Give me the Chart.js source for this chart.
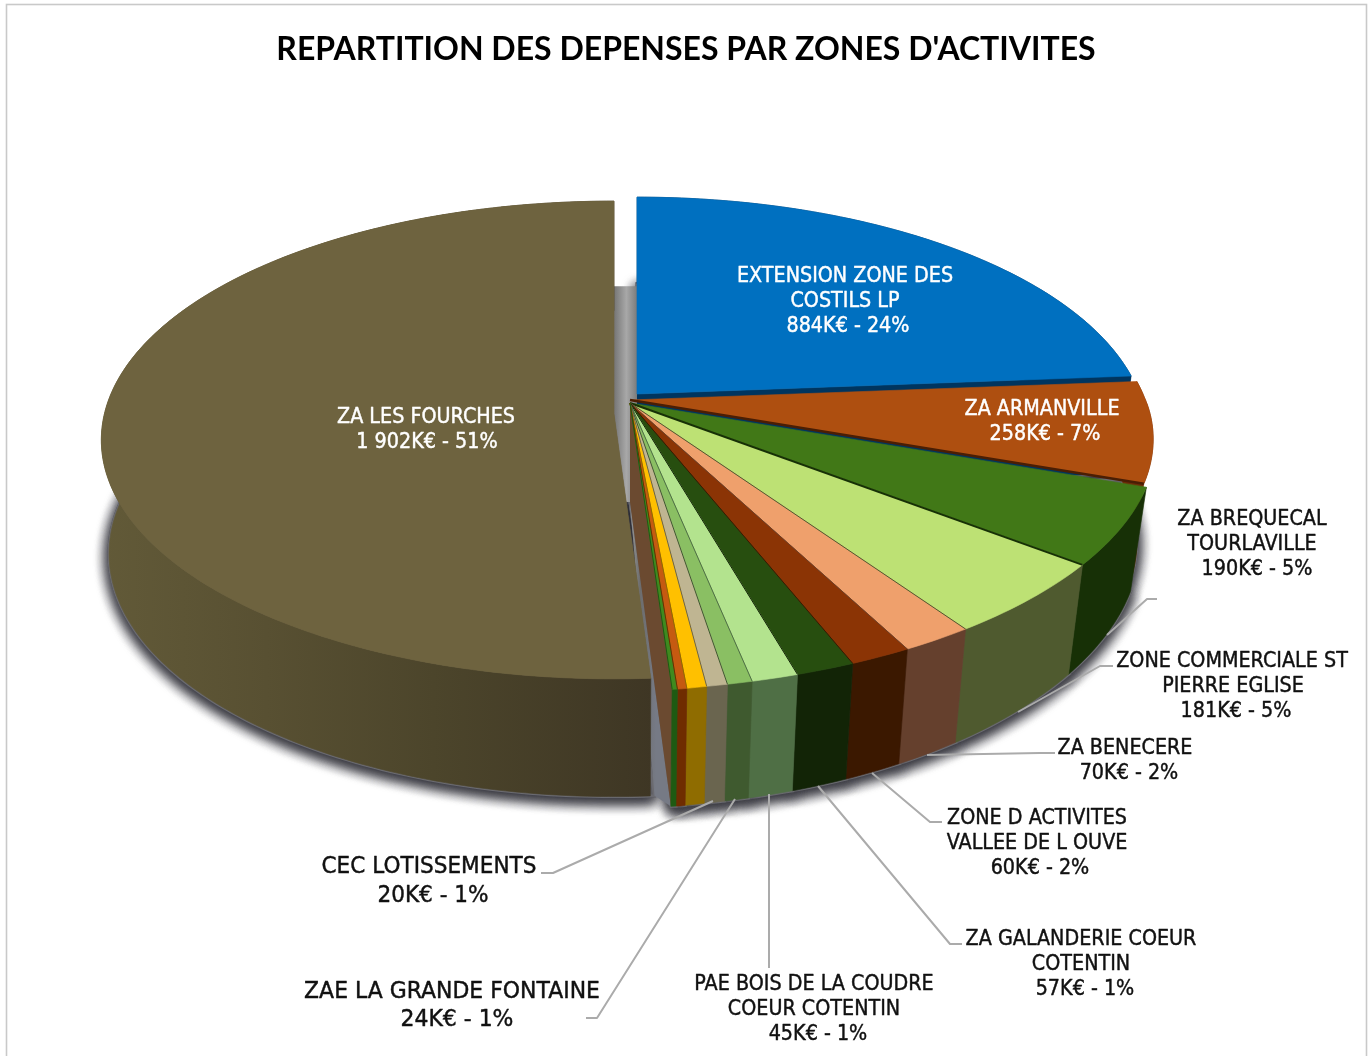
<!DOCTYPE html>
<html lang="fr"><head><meta charset="utf-8">
<style>html,body{margin:0;padding:0;background:#fff}canvas{display:block}</style>
<script src="https://cdn.jsdelivr.net/npm/chart.js@4"></script></head>
<body><canvas id="c" width="1372" height="1056"></canvas>
<script>
// ---- data (clockwise from 12 o'clock) ----
const titleText = "REPARTITION DES DEPENSES PAR ZONES D'ACTIVITES";
const categories = ["EXTENSION ZONE DES COSTILS LP","ZA ARMANVILLE","ZA BREQUECAL TOURLAVILLE","ZONE COMMERCIALE ST PIERRE EGLISE","ZA BENECERE","ZONE D ACTIVITES VALLEE DE L OUVE","ZA GALANDERIE COEUR COTENTIN","PAE BOIS DE LA COUDRE COEUR COTENTIN","ZAE LA GRANDE FONTAINE","CEC LOTISSEMENTS","","","","ZA LES FOURCHES"];
const valuesKE  = [884,258,190,181,70,60,57,45,24,20,19,9,5,1902];
const percents  = [24,7,5,5,2,2,1,1,1,1,0,0,0,51];
// ---- styles ----
const topColors  = ["#0070C0","#AE4F10","#417817","#BDE174","#EFA06C","#8B3405","#274E0F","#B3E38E","#8ABF63","#BFB592","#FFC000","#C55A11","#3F8A1F","#6E633F"];
const wallColors = ["#00355F","#6E2C08","#173006","#4F5A2F","#65402D","#3B1800","#122406","#4F6F45","#3F5A2F","#6A654F","#8F6C00","#6F2C00","#1E5A12","#4A4229"];
const edgeColors = [null,"#4A1E04","#173006","#4F5A2F","#65402D","#3B1800","#122406","#4F6F45","#3F5A2F","#6A654F","#8F6C00","#6F2C00","#1E5A12",null];
const edgeWidths = [0,2.6,2,1,.8,1,1,1,1,1,1,1,1,0];
const sliceShift = {0:{dx:7,dy:-9,r:.97},1:{dx:0,dy:-3,r:.995},13:{dx:-16,dy:-4,r:.975,floorX:.985,depth:113,floorRy:241.8,apexDy:15,trim:.007}};
const LABEL_FONT = '"DejaVu Sans",sans-serif';
const LABEL_HSCALE = .935;
const labelLayout = [
 {i:0,  c:"#fff", s:20.5, lines:["EXTENSION ZONE DES","COSTILS LP"], at:[[845,274],[845,299],[848,324]]},
 {i:1,  c:"#fff", s:20.5, lines:["ZA ARMANVILLE"], at:[[1042,407],[1045,432]]},
 {i:13, c:"#fff", s:20.5, lines:["ZA LES FOURCHES"], at:[[426,415],[427,440]]},
 {i:2,  c:"#111", s:20.5, lines:["ZA BREQUECAL","TOURLAVILLE"], at:[[1252,517],[1252,542],[1257,567]]},
 {i:3,  c:"#111", s:20.5, lines:["ZONE COMMERCIALE ST","PIERRE EGLISE"], at:[[1232,659],[1233,684],[1236,709]]},
 {i:4,  c:"#111", s:20.5, lines:["ZA BENECERE"], at:[[1125,746],[1129,771]]},
 {i:5,  c:"#111", s:20.5, lines:["ZONE D ACTIVITES","VALLEE DE L OUVE"], at:[[1037,816],[1037,841],[1040,866]]},
 {i:6,  c:"#111", s:20.5, lines:["ZA GALANDERIE COEUR","COTENTIN"], at:[[1081,937],[1081,962],[1085,987]]},
 {i:7,  c:"#111", s:20.5, lines:["PAE BOIS DE LA COUDRE","COEUR COTENTIN"], at:[[814,982],[814,1007],[818,1032]]},
 {i:8,  c:"#111", s:22.5, hs:.975, lines:["ZAE LA GRANDE FONTAINE"], at:[[452,990],[457,1018]]},
 {i:9,  c:"#111", s:22.5, hs:.96, lines:["CEC LOTISSEMENTS"], at:[[429,865],[433,894]]}
];
const leaders = [
 [[541,873],[553,873],[713,801]],
 [[586,1018],[597,1018],[735,799]],
 [[769,968],[769,794]],
 [[962,944],[950,944],[818,786]],
 [[942,822],[930,822],[872,773]],
 [[1055,753],[1040,753],[927,755]],
 [[1113,666],[1100,666],[1018,712]],
 [[1157,599],[1147,599],[1107,635]]
];
// projection of the tilted disc
const VIEW = {cx:630, cy:403, R:518, Ry:237.8, p:0.1716, depth:99, floorX:.969, floorRy:252.8, sag:5};
const BASE = {dx:0,dy:0,r:1};

function proj(a, lvl, sl){
  const s=Math.sin(a), c=Math.cos(a), k=1/(1-VIEW.p*s);
  const lim=85*Math.PI/180;
  const sag=(a>0&&a<lim)?VIEW.sag*Math.pow(Math.sin(Math.PI*a/lim),.6):0;
  if(lvl===0) return [VIEW.cx+sl.dx+sl.r*VIEW.R*c*k, VIEW.cy+sl.dy-sag+sl.r*VIEW.Ry*s*k];
  const fx=sl.floorX||VIEW.floorX, d=sl.depth||VIEW.depth, fy=sl.floorRy||VIEW.floorRy;
  return [VIEW.cx+sl.dx+sl.r*VIEW.R*fx*c*k, VIEW.cy+sl.dy-sag+d+sl.r*fy*s*k];
}
function arcPts(a0,a1,lvl,sl){
  const n=Math.max(2,Math.ceil(Math.abs(a1-a0)/(Math.PI/180))), out=[];
  for(let j=0;j<=n;j++) out.push(proj(a0+(a1-a0)*j/n,lvl,sl));
  return out;
}
function poly(ctx,pts){ctx.beginPath();pts.forEach((q,j)=>j?ctx.lineTo(q[0],q[1]):ctx.moveTo(q[0],q[1]));ctx.closePath();}
function apex(lvl,sl){return [VIEW.cx+sl.dx, VIEW.cy+sl.dy+(lvl?(sl.depth||VIEW.depth):(sl.apexDy||0))];}

const pie3d = {
  id:'pie3d',
  beforeDraw(chart){
    const ctx=chart.ctx; ctx.save();
    ctx.strokeStyle="#c9c9c9"; ctx.lineWidth=1.6;
    ctx.strokeRect(6.5,4.5,1360,1060);
    ctx.restore();
  },
  beforeDatasetDraw(chart){
    const ctx=chart.ctx, arcs=chart.getDatasetMeta(0).data, last=arcs.length-1;
    const shift=i=>sliceShift[i]||BASE;
    ctx.save();
    // soft shadow under the floor
    const g=ctx.createLinearGradient(600,0,680,0);
    g.addColorStop(0,"#666");g.addColorStop(.18,"#777");g.addColorStop(.33,"#a8a8a8");g.addColorStop(.42,"#8a8a8a");g.addColorStop(.5,"#6d6d6d");g.addColorStop(.7,"#767a85");g.addColorStop(1,"#767a85");
    ctx.save();
    ctx.shadowColor="rgba(50,50,58,1)";ctx.shadowBlur=13;ctx.shadowOffsetY=4;
    ctx.fillStyle="#6a6a70";ctx.strokeStyle="#6a6a70";ctx.lineWidth=3;
    for(let pass=0;pass<2;pass++){
      arcs.forEach((el,i)=>{const sl=shift(i);poly(ctx,[apex(1,sl),...arcPts(el.startAngle,el.endAngle,1,sl)]);ctx.fill();ctx.stroke();});
    }
    ctx.restore();
    // gaps left by the detached slices: the floor seen through them
    ctx.fillStyle=g;
    poly(ctx,[apex(1,BASE),...arcPts(-1.66,-1.48,1,BASE)]);ctx.fill();
    poly(ctx,[[VIEW.cx-16,VIEW.cy],[VIEW.cx,VIEW.cy],...arcPts(-1.66,-1.6,1,BASE).slice(0,0),apex(1,BASE),[VIEW.cx-16,VIEW.cy+VIEW.depth]]);ctx.fill();
    poly(ctx,[apex(1,BASE),proj(arcs[last].startAngle,1,BASE),proj(arcs[last].startAngle,1,shift(last))]);ctx.fill();
    // slices, back to front
    arcs.forEach((el,i)=>{
      const sl=shift(i), a0=el.startAngle+(sl.trim||0), a1=el.endAngle;
      const t=arcPts(a0,a1,0,sl), b=arcPts(a0,a1,1,sl);
      if(i===0||i===last-1){
        ctx.fillStyle=i===0?wallColors[0]:"#6B4A30";
        poly(ctx,[apex(0,sl),t[t.length-1],b[b.length-1],apex(1,sl)]);ctx.fill();
      }
      let wf=wallColors[i];
      if(i===last){
        wf=ctx.createLinearGradient(100,0,655,0);
        wf.addColorStop(0,"#625A38");wf.addColorStop(.3,"#585032");wf.addColorStop(.6,"#4C452B");wf.addColorStop(1,"#3E3624");
      }
      ctx.fillStyle=wf;ctx.strokeStyle=wf;ctx.lineWidth=.6;
      poly(ctx,[...t,...b.slice().reverse()]);ctx.fill();ctx.stroke();
      ctx.fillStyle=topColors[i];ctx.strokeStyle=topColors[i];ctx.lineWidth=.6;
      poly(ctx,[apex(0,sl),...t]);ctx.fill();ctx.stroke();
    });
    // dark radial edges between the faces
    arcs.forEach((el,i)=>{
      if(!edgeWidths[i])return;
      const sl=shift(i),q=proj(el.endAngle,0,sl),o=apex(0,sl);
      ctx.strokeStyle=edgeColors[i];ctx.lineWidth=edgeWidths[i];
      ctx.beginPath();ctx.moveTo(o[0],o[1]);ctx.lineTo(q[0],q[1]);ctx.stroke();
    });
    {const el=arcs[last],sl=shift(last),t=arcPts(el.startAngle+sl.trim,el.endAngle,0,sl);
     ctx.fillStyle=topColors[last];poly(ctx,[apex(0,sl),...t]);ctx.fill();}
    ctx.restore();
    return false;
  },
  afterDatasetsDraw(chart){
    const ctx=chart.ctx; ctx.save();
    ctx.strokeStyle="#ababab";ctx.lineWidth=2;ctx.lineJoin="round";
    leaders.forEach(l=>{ctx.beginPath();l.forEach((q,j)=>j?ctx.lineTo(q[0],q[1]):ctx.moveTo(q[0],q[1]));ctx.stroke();});
    ctx.textAlign="center";ctx.textBaseline="middle";ctx.lineJoin="round";
    labelLayout.forEach(b=>{
      const v=valuesKE[b.i], vs=v>=1000?Math.floor(v/1000)+" "+String(v%1000).padStart(3,"0"):String(v);
      const rows=[...b.lines, vs+"K€ - "+percents[b.i]+"%"];
      ctx.font=b.s+"px "+LABEL_FONT;ctx.fillStyle=b.c;ctx.strokeStyle=b.c;ctx.lineWidth=.45;
      rows.forEach((txt,j)=>{
        ctx.save();ctx.translate(b.at[j][0],b.at[j][1]+2.5);ctx.scale(b.hs||LABEL_HSCALE,1);
        ctx.fillText(txt,0,0);ctx.strokeText(txt,0,0);ctx.restore();
      });
    });
    ctx.restore();
  }
};

new Chart(document.getElementById('c').getContext('2d'),{
  type:'pie',
  data:{labels:categories,datasets:[{data:valuesKE,backgroundColor:topColors,borderWidth:0}]},
  options:{
    responsive:false,animation:false,
    layout:{padding:{top:30,bottom:24}},
    plugins:{
      legend:{display:false},tooltip:{enabled:false},
      title:{display:true,text:titleText,color:"#000",padding:{top:0,bottom:0},
             font:{family:'Lato,"Open Sans",sans-serif',size:32,weight:'bold'}}
    }
  },
  plugins:[pie3d]
});
</script></body></html>
